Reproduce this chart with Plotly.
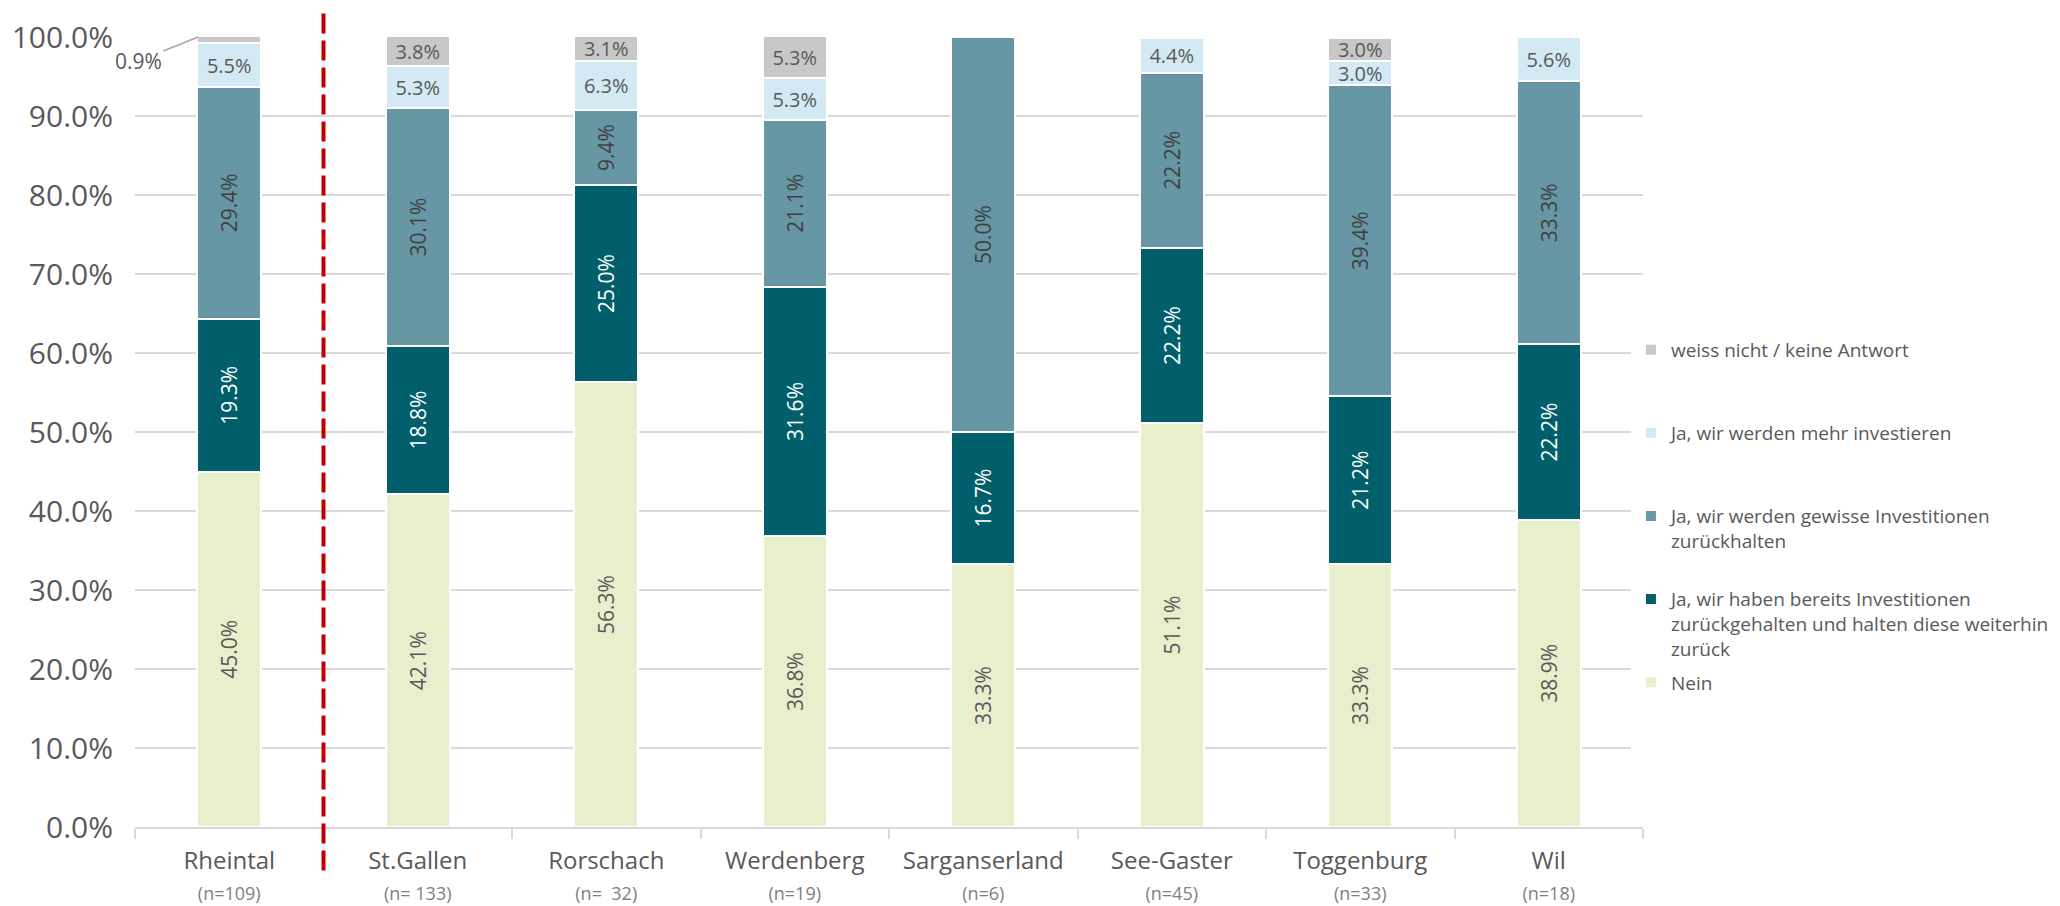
import plotly.graph_objects as go

regions = ["Rheintal", "St.Gallen", "Rorschach", "Werdenberg", "Sarganserland",
           "See-Gaster", "Toggenburg", "Wil"]
sample_sizes = ["(n=109)", "(n= 133)", "(n=  32)", "(n=19)", "(n=6)", "(n=45)", "(n=33)", "(n=18)"]

nein = [45.0, 42.1, 56.3, 36.8, 33.3, 51.1, 33.3, 38.9]
bereits = [19.3, 18.8, 25.0, 31.6, 16.7, 22.2, 21.2, 22.2]
gewisse = [29.4, 30.1, 9.4, 21.1, 50.0, 22.2, 39.4, 33.3]
mehr = [5.5, 5.3, 6.3, 5.3, 0.0, 4.4, 3.0, 5.6]
weiss = [0.9, 3.8, 3.1, 5.3, 0.0, 0.0, 3.0, 0.0]

# (name, values, fill colour, label colour, label angle, label size)
series = [
    ("Nein", nein, "#E9EFCC", "#595959", -90, 21),
    ("Ja, wir haben bereits Investitionen<br>zurückgehalten und halten diese weiterhin<br>zurück",
     bereits, "#005F6B", "#FFFFFF", -90, 21),
    ("Ja, wir werden gewisse Investitionen<br>zurückhalten", gewisse, "#6797A5", "#404040", -90, 21),
    ("Ja, wir werden mehr investieren", mehr, "#D3EAF4", "#595959", 0, 20),
    ("weiss nicht / keine Antwort", weiss, "#C8C8C8", "#595959", 0, 20),
]

x_labels = [f"{r}<br><span style='font-size:18px;color:#808080'>{n}</span>"
            for r, n in zip(regions, sample_sizes)]

fig = go.Figure()
for i, (name, vals, color, tcolor, angle, tsize) in enumerate(series):
    labels = [f"{v:.1f}%" if v >= 2 else "" for v in vals]
    # pad legend text to three lines so the entries are evenly spaced
    lines = name.count("<br>") + 1
    legend_name = name + "<br> " * (3 - lines)
    fig.add_trace(go.Bar(
        x=x_labels, y=[v / 100 for v in vals], name=legend_name,
        legendgroup=str(i), legendrank=1000 - 10 * i,
        marker=dict(color=color, line=dict(color="white", width=2)),
        text=labels, textposition="inside", insidetextanchor="middle",
        textangle=angle, constraintext="none",
        textfont=dict(size=tsize, color=tcolor, family="Open Sans"),
        hoverinfo="skip",
    ))

# small segment labelled outside with a leader line
for j, v in enumerate(weiss):
    if 0 < v < 2:
        top = (nein[j] + bereits[j] + gewisse[j] + mehr[j] + v) / 100
        fig.add_annotation(x=x_labels[j], y=min(top, 1.0), xshift=-31,
                           text=f"{v:.1f}%", showarrow=True, arrowhead=0,
                           arrowcolor="#A6A6A6", arrowwidth=1.5, ax=-60, ay=24,
                           standoff=0, font=dict(size=21, color="#595959"))

# red separator between Rheintal and the other regions
fig.add_shape(type="line", xref="x", yref="paper", x0=0.5, x1=0.5, y0=-0.055, y1=1.03,
              line=dict(color="#C00000", width=4, dash="20px,7px"))

fig.update_layout(
    template="none",
    barmode="stack", bargap=0.66,
    width=2044, height=898,
    margin=dict(l=127, r=409, t=29, b=79, autoexpand=False),
    paper_bgcolor="white", plot_bgcolor="white",
    font=dict(family="Open Sans", color="#595959"),
    legend=dict(x=0.992, y=0.628, xanchor="left", yanchor="top",
                traceorder="grouped", tracegroupgap=6, valign="top",
                font=dict(size=19, color="#595959")),
    showlegend=True,
)
fig.update_yaxes(range=[0, 1.0], tickformat=".1%", dtick=0.1,
                 showgrid=True, gridcolor="#D9D9D9", gridwidth=1.5,
                 zeroline=False, showline=False, ticks="",
                 tickfont=dict(size=30, color="#595959"), ticklabelstandoff=21,
                 automargin=False)
fig.update_xaxes(range=[-0.5, len(regions) - 0.5],
                 showline=True, linecolor="#D9D9D9", linewidth=2,
                 ticks="outside", tickson="boundaries", ticklen=10, tickcolor="#D9D9D9",
                 tickwidth=1.5, showgrid=False, tickfont=dict(size=24, color="#595959"),
                 ticklabelstandoff=11, automargin=False)

fig.write_html("out.html")
